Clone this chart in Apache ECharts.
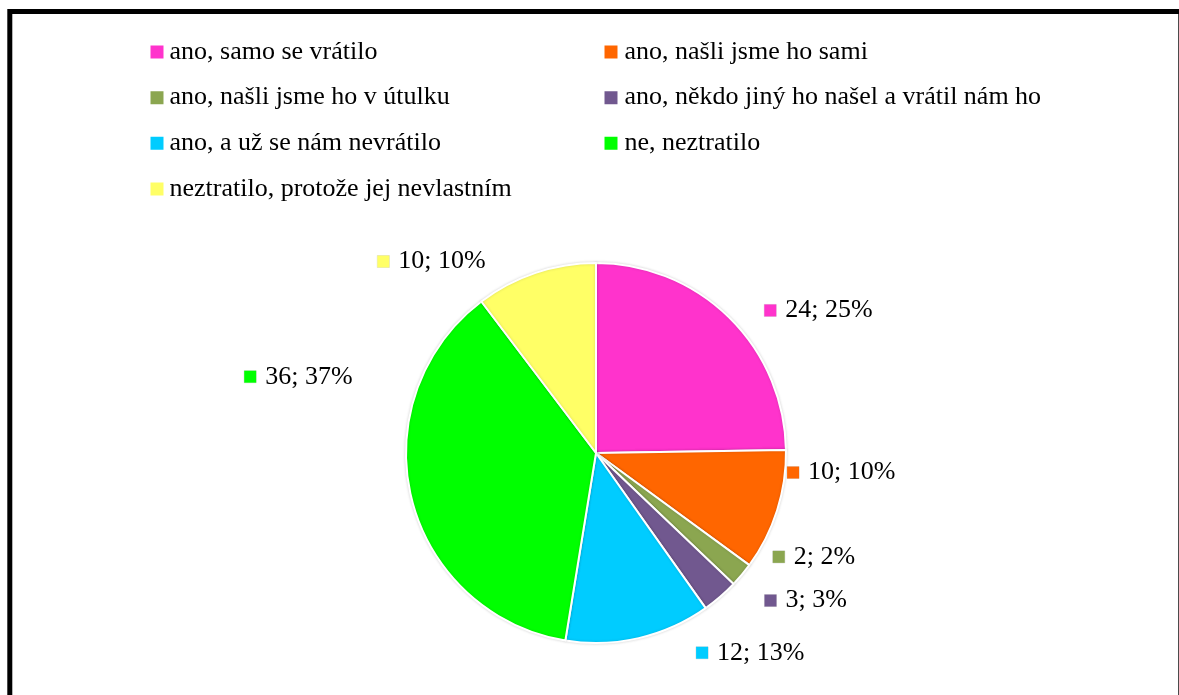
<!DOCTYPE html>
<html>
<head>
<meta charset="utf-8">
<script src="https://cdn.jsdelivr.net/npm/echarts@6/dist/echarts.min.js"></script>
<style>
html,body{margin:0;padding:0;background:#fff;}
#chart{width:1179px;height:695px;}
</style>
</head>
<body>
<div id="chart"></div>
<script>
// ---- data ----
var categories = [
  'ano, samo se vrátilo',
  'ano, našli jsme ho sami',
  'ano, našli jsme ho v útulku',
  'ano, někdo jiný ho našel a vrátil nám ho',
  'ano, a už se nám nevrátilo',
  'ne, neztratilo',
  'neztratilo, protože jej nevlastním'
];
var values = [24, 10, 2, 3, 12, 36, 10];
var percentLabels = ['25%', '10%', '2%', '3%', '13%', '37%', '10%'];

// ---- styles ----
var colors = ['#FF33CC', '#FF6600', '#8BA650', '#71588F', '#00CCFF', '#00FF00', '#FFFF66'];
var lineLen  = [10, 0, 0, 5, 15, 0, 12];
var lineLen2 = [23, 5, 26, 36, 49, 54, 41];
var labelDy  = [0, -38, -18, 0, 0, -122, 0];
var FONT = '"Liberation Serif", "Times New Roman", serif';
var FS = 26;

var rich = { t: { fontFamily: FONT, fontSize: FS, color: '#000', padding: [0, 0, 0, 9], lineHeight: 28 } };
colors.forEach(function (c, i) {
  rich['m' + i] = { width: 12, height: 12, backgroundColor: c, borderColor: 'rgba(200,200,200,0.6)', borderWidth: 0.5 };
});

var pieData = categories.map(function (name, i) {
  return {
    name: name,
    value: values[i],
    itemStyle: { color: colors[i] },
    labelLine: { show: false, length: lineLen[i], length2: lineLen2[i] }
  };
});

function legendCol(idx, left, textPad) {
  return {
    orient: 'vertical',
    left: left,
    top: 39,
    padding: 0,
    itemWidth: 15,
    itemHeight: 15,
    itemGap: 19.67,
    icon: 'rect',
    selectedMode: false,
    data: idx.map(function (i) { return categories[i]; }),
    textStyle: { fontFamily: FONT, fontSize: FS, color: '#000', lineHeight: 26, padding: [0, 0, 0, textPad] }
  };
}

var chart = echarts.init(document.getElementById('chart'));
chart.setOption({
  backgroundColor: '#fff',
  animation: false,
  graphic: [{
    type: 'rect',
    shape: { x: 9.8, y: 11.5, width: 1171, height: 800 },
    style: { fill: 'none', stroke: '#000', lineWidth: 5 },
    silent: true,
    z: 100
  }],
  legend: [legendCol([0, 2, 4, 6], 148.5, 0), legendCol([1, 3, 5], 602.5, 1)],
  series: [{
    type: 'pie',
    center: [596, 453],
    radius: 190,
    startAngle: 90,
    clockwise: true,
    avoidLabelOverlap: false,
    silent: true,
    itemStyle: { borderColor: '#fff', borderWidth: 2, shadowBlur: 3, shadowColor: 'rgba(0,0,0,0.15)' },
    label: {
      show: true,
      position: 'outside',
      alignTo: 'none',
      distanceToLabelLine: 5,
      formatter: function (p) {
        return '{m' + p.dataIndex + '|}{t|' + p.value + '; ' + percentLabels[p.dataIndex] + '}';
      },
      rich: rich
    },
    labelLayout: function (p) {
      return { dy: labelDy[p.dataIndex] };
    },
    data: pieData
  }]
});
</script>
</body>
</html>
